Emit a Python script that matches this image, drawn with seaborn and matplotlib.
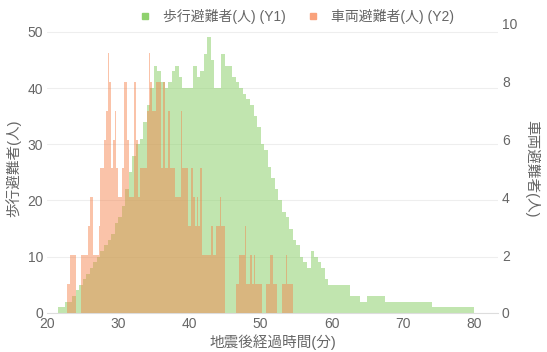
import numpy as np
import pandas as pd
import matplotlib
matplotlib.use("Agg")
import matplotlib.pyplot as plt
from matplotlib.lines import Line2D
import seaborn as sns

# walking evacuees per 0.5 min bin, starting at 21.5 min (left axis)
walk_start = 21.5
walk_step = 0.5
walk_counts = [
    1, 1, 2, 2, 3, 4, 5, 6, 7, 8, 9, 10, 11, 12, 13, 14, 16, 17, 19, 22,
    25, 28, 30, 31, 34, 37, 40, 44, 43, 41, 40, 41, 43, 44, 42, 40, 40, 40,
    44, 42, 43, 46, 49, 45, 40, 40, 46, 44, 44, 42, 41, 40, 39, 38, 37, 35,
    33, 30, 29, 26, 24, 22, 20, 18, 17, 15, 13, 12, 10, 9, 8, 11, 10, 9, 8,
    6, 5, 5, 5, 5, 5, 5, 3, 3, 3, 2, 2, 3, 3, 3, 3, 3,
    2, 2, 2, 2, 2, 2, 2, 2, 2, 2, 2, 2, 2,
    1, 1, 1, 1, 1, 1, 1, 1, 1, 1, 1, 1,
]

# vehicle evacuees per 0.25 min bin, starting at 22.75 min (right axis)
car_start = 22.75
car_step = 0.25
car_counts = [
    1, 1, 2, 2, 2,
    0, 0, 0, 2,  2, 2, 2, 3,  4, 4, 2, 2,  2, 3, 5, 5,
    6, 7, 9, 8,  5, 6, 7, 5,  4, 4, 5, 8,  8, 6, 4, 4,
    4, 8, 6, 4,  5, 5, 5, 5,  7, 9, 8, 7,  7, 8, 8, 8,
    5, 8, 5, 5,  7, 5, 5, 5,  4, 4, 4, 7,  5, 5, 5, 3,
    3, 5, 4, 3,  4, 3, 5, 2,  2, 2, 2, 2,  3, 2, 2, 3,
    3, 4, 3, 3,  0, 0, 0, 0,  0, 0, 1, 1,  2, 2, 2, 3,
    1, 1, 2, 1,  2, 1, 1, 1,  1, 0, 0, 1,  1, 2, 2, 1,
    1, 0, 0, 0,  1, 1, 2, 1,  1, 1,
]

walk_label = "歩行避難者(人) (Y1)"
car_label = "車両避難者(人) (Y2)"
x_title = "地震後経過時間(分)"
y1_title = "歩行避難者(人)"
y2_title = "車両避難者(人)"

green = "#8fd16e"
orange = "#f5814a"
text_gray = "#666666"

sns.set_style("white")
plt.rcParams['font.family'] = ['Liberation Sans', 'Noto Sans CJK JP']

fig = plt.figure(figsize=(5.47, 3.52), dpi=100)
ax = fig.add_axes([0.086, 0.111, 0.824, 0.821])
ax2 = ax.twinx()

walk_df = pd.DataFrame({
    "t": walk_start + walk_step * (np.arange(len(walk_counts)) + 0.5),
    "n": walk_counts,
})
car_df = pd.DataFrame({
    "t": car_start + car_step * (np.arange(len(car_counts)) + 0.5),
    "n": car_counts,
})

sns.histplot(data=walk_df, x="t", weights="n", binwidth=walk_step,
             binrange=(walk_start, walk_start + walk_step * len(walk_counts)),
             element="step", fill=True, color=green, alpha=0.55,
             linewidth=0, ax=ax)
sns.histplot(data=car_df, x="t", weights="n", binwidth=car_step,
             binrange=(car_start, car_start + car_step * len(car_counts)),
             element="step", fill=True, color=orange, alpha=0.47,
             linewidth=0, ax=ax2)

ax.set_xlim(20, 83.3)
ax.set_ylim(0, 51.4)
ax2.set_ylim(0, 10)
ax.set_xticks([20, 30, 40, 50, 60, 70, 80])
ax.set_yticks([0, 10, 20, 30, 40, 50])
ax2.set_yticks([0, 2, 4, 6, 8, 10])

ax.grid(axis="y", color="#eeeeee", linewidth=0.8)
ax.set_axisbelow(True)

for a in (ax, ax2):
    for s in a.spines.values():
        s.set_visible(False)
    a.tick_params(length=0, labelsize=10, colors=text_gray, pad=3)
ax.spines["bottom"].set_visible(True)
ax.spines["bottom"].set_color("#dddddd")

ax.set_xlabel(x_title, fontsize=10.5, color=text_gray, labelpad=2)
ax.set_ylabel(y1_title, fontsize=10.5, color=text_gray, labelpad=4)
ax2.set_ylabel(y2_title, fontsize=10.5, color=text_gray, rotation=270,
               labelpad=16)

handles = [
    Line2D([], [], marker="s", linestyle="", color=green, markersize=5),
    Line2D([], [], marker="s", linestyle="", color="#f9a27c", markersize=5),
]
fig.legend(handles, [walk_label, car_label], loc="upper center",
           bbox_to_anchor=(0.535, 1.01), ncol=2, frameon=False, fontsize=10,
           labelcolor=text_gray, handletextpad=0.3, columnspacing=1.0)

fig.savefig("out.png", dpi=100)
